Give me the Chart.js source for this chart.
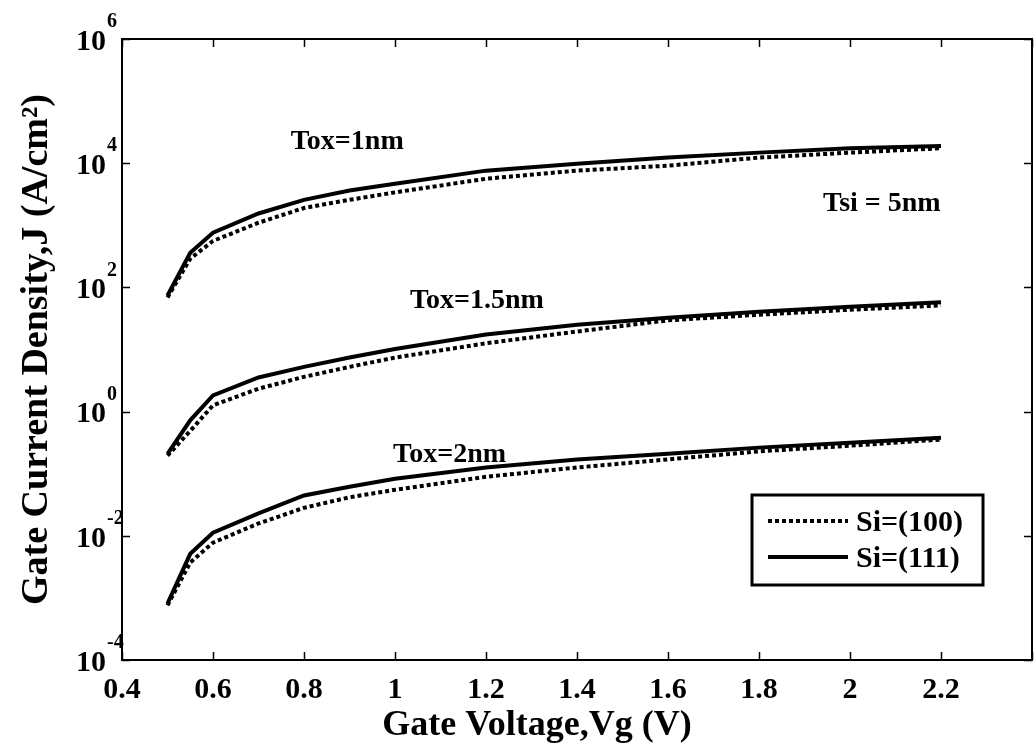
<!DOCTYPE html>
<html>
<head>
<meta charset="utf-8">
<title>Gate current density vs gate voltage</title>
<script src="https://cdn.jsdelivr.net/npm/chart.js@4.4.1/dist/chart.umd.min.js"></script>
<style>
    html, body { margin: 0; padding: 0; background: #fff; }
    #wrap { width: 1036px; height: 745px; }
</style>
</head>
<body>
<div id="wrap"><canvas id="jgChart" width="1036" height="745"></canvas></div>
<script>
// gate voltage (V), same for every curve
const gateVoltage = [0.5, 0.55, 0.6, 0.7, 0.8, 0.9, 1.0, 1.2, 1.4, 1.6, 1.8, 2.0, 2.2];

// gate current density J (A/cm^2)
const tox1Si100 = [69, 290, 560, 1100, 1900, 2570, 3390, 5620, 7590, 9120, 12300, 14800, 17400];
const tox1Si111 = [74, 360, 760, 1550, 2570, 3630, 4680, 7590, 9770, 12300, 14800, 17400, 19000];
const tox15Si100 = [0.195, 0.49, 1.26, 2.34, 3.63, 5.25, 7.41, 12.6, 19.5, 29.5, 36.3, 43.7, 51.3];
const tox15Si111 = [0.209, 0.724, 1.82, 3.55, 5.25, 7.41, 10.2, 17.4, 25.1, 32.4, 40.7, 49.0, 57.5];
const tox2Si100 = [0.000759, 0.00372, 0.00776, 0.0158, 0.0282, 0.0417, 0.055, 0.0891, 0.126, 0.17, 0.229, 0.282, 0.355];
const tox2Si111 = [0.000813, 0.00513, 0.0112, 0.0229, 0.0447, 0.0617, 0.0832, 0.126, 0.17, 0.209, 0.263, 0.316, 0.38];

// tick labels
const yTickPowers = [-4, -2, 0, 2, 4, 6];
const xTickLabels = ['0.4', '0.6', '0.8', '1', '1.2', '1.4', '1.6', '1.8', '2', '2.2'];

// text written on the plot
const noteTexts = ['Tox=1nm', 'Tsi = 5nm', 'Tox=1.5nm', 'Tox=2nm'];
const noteX = [0.895, 2.07, 1.18, 1.12];
const noteY = [22400, 2240, 62, 0.2];

const legendNames = ['Si=(100)', 'Si=(111)'];
const xTitle = 'Gate Voltage,Vg (V)';

const serif = '"Liberation Serif", "Times New Roman", serif';

function toPoints(ys) {
    return gateVoltage.map((v, i) => ({ x: v, y: ys[i] }));
}

function dotted(ys) {
    return {
        label: legendNames[0],
        data: toPoints(ys),
        borderColor: '#000',
        borderWidth: 4,
        borderDash: [4, 3],
        pointRadius: 0,
        tension: 0,
        order: 1
    };
}

function solid(ys) {
    return {
        label: legendNames[1],
        data: toPoints(ys),
        borderColor: '#000',
        borderWidth: 4,
        pointRadius: 0,
        tension: 0,
        order: 0
    };
}

// frame, inward ticks, y labels with exponents, notes, x title and legend box
const paperPlugin = {
    id: 'paperPlugin',
    afterDraw(chart) {
        const { ctx, chartArea: a, scales: { x, y } } = chart;
        ctx.save();
        ctx.strokeStyle = '#000';
        ctx.fillStyle = '#000';

        ctx.lineWidth = 2;
        ctx.strokeRect(a.left, a.top, a.right - a.left, a.bottom - a.top);

        ctx.lineWidth = 1.5;
        ctx.beginPath();
        x.ticks.forEach(t => {
            const px = Math.round(x.getPixelForValue(t.value)) + 0.5;
            ctx.moveTo(px, a.bottom); ctx.lineTo(px, a.bottom - 8);
            ctx.moveTo(px, a.top); ctx.lineTo(px, a.top + 8);
        });
        yTickPowers.forEach(p => {
            const py = Math.round(y.getPixelForValue(Math.pow(10, p))) + 0.5;
            ctx.moveTo(a.left, py); ctx.lineTo(a.left + 8, py);
            ctx.moveTo(a.right, py); ctx.lineTo(a.right - 8, py);
        });
        ctx.stroke();

        // y tick labels: 10 with raised exponent
        ctx.textBaseline = 'middle';
        yTickPowers.forEach(p => {
            const py = y.getPixelForValue(Math.pow(10, p));
            ctx.font = 'bold 30px ' + serif;
            ctx.textAlign = 'right';
            ctx.fillText('10', 106, py + 3);
            ctx.font = 'bold 20px ' + serif;
            ctx.textAlign = 'left';
            ctx.fillText(String(p), 107, py - 17);
        });

        // notes
        ctx.font = 'bold 28px ' + serif;
        ctx.textAlign = 'center';
        noteTexts.forEach((txt, i) => {
            ctx.fillText(txt, x.getPixelForValue(noteX[i]), y.getPixelForValue(noteY[i]));
        });

        // x axis title
        ctx.font = 'bold 36px ' + serif;
        ctx.fillText(xTitle, 537, 726);

        // legend box
        const bx = 752, by = 495, bw = 231, bh = 90;
        ctx.lineWidth = 3;
        ctx.strokeRect(bx, by, bw, bh);
        const sample = [chart.data.datasets[0], chart.data.datasets[1]];
        ctx.font = 'bold 30px ' + serif;
        ctx.textAlign = 'left';
        sample.forEach((ds, i) => {
            const ly = by + 26 + i * 36;
            ctx.lineWidth = ds.borderWidth;
            ctx.setLineDash(ds.borderDash || []);
            ctx.beginPath();
            ctx.moveTo(bx + 16, ly);
            ctx.lineTo(bx + 96, ly);
            ctx.stroke();
            ctx.setLineDash([]);
            ctx.fillText(legendNames[i], bx + 104, ly + 2);
        });
        ctx.restore();
    }
};

document.addEventListener('DOMContentLoaded', () => {
    const ctx = document.getElementById('jgChart').getContext('2d');

    new Chart(ctx, {
        type: 'line',
        data: {
            datasets: [
                dotted(tox1Si100), solid(tox1Si111),
                dotted(tox15Si100), solid(tox15Si111),
                dotted(tox2Si100), solid(tox2Si111)
            ]
        },
        options: {
            responsive: false,
            animation: false,
            devicePixelRatio: 1,
            layout: { padding: { top: 39, right: 4, left: 0, bottom: 0 } },
            plugins: {
                legend: { display: false },
                tooltip: { enabled: false }
            },
            scales: {
                x: {
                    type: 'linear',
                    min: 0.4,
                    max: 2.4,
                    grid: { display: false, drawTicks: false },
                    border: { display: false },
                    ticks: {
                        stepSize: 0.2,
                        padding: 12,
                        color: '#000',
                        maxRotation: 0,
                        autoSkip: false,
                        font: { family: serif, size: 30, weight: 'bold' },
                        callback: (value) => {
                            const s = String(Number(value.toFixed(1)));
                            return xTickLabels.includes(s) ? s : '';
                        }
                    },
                    afterFit: (scale) => {
                        scale.height = 85;
                        scale.paddingLeft = 0;
                        scale.paddingRight = 0;
                    }
                },
                y: {
                    type: 'logarithmic',
                    min: 1e-4,
                    max: 1e6,
                    grid: { display: false, drawTicks: false },
                    border: { display: false },
                    ticks: { display: false },
                    afterBuildTicks: (scale) => {
                        scale.ticks = yTickPowers.map(p => ({ value: Math.pow(10, p) }));
                    },
                    title: {
                        display: true,
                        text: 'Gate Current Density,J (A/cm²)',
                        color: '#000',
                        font: { family: serif, size: 38, weight: 'bold' },
                        padding: { top: 14, bottom: 0 }
                    },
                    afterFit: (scale) => {
                        scale.width = 122;
                        scale.paddingTop = 0;
                        scale.paddingBottom = 0;
                    }
                }
            }
        },
        plugins: [paperPlugin]
    });
});
</script>
</body>
</html>
